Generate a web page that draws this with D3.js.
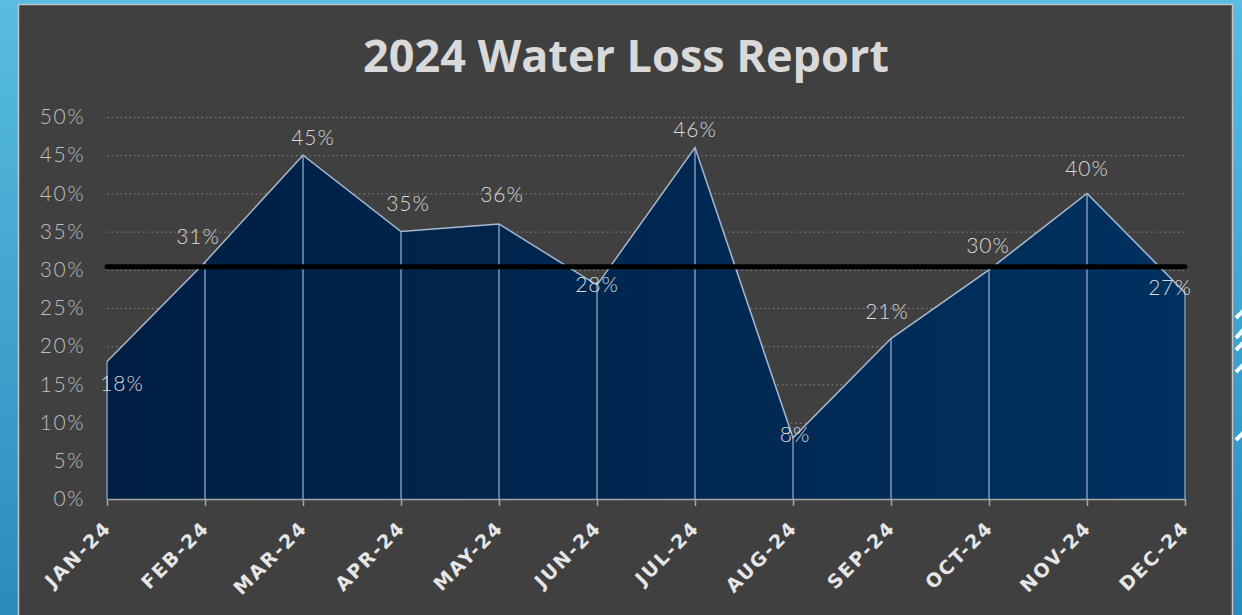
<html>
<head>
  <script src="https://d3js.org/d3.v7.min.js"></script>
  <style>
    body { margin: 0; overflow: hidden; }
    .grid line { stroke: #8a8a8a; stroke-dasharray: 1.5 3; }
    .grid .domain { stroke: none; }
  </style>
</head>
<body>
  <svg id="chart" width="1242" height="615"></svg>
  <script>
    // data
    const months = ["JAN-24", "FEB-24", "MAR-24", "APR-24", "MAY-24", "JUN-24",
                    "JUL-24", "AUG-24", "SEP-24", "OCT-24", "NOV-24", "DEC-24"];
    const lossPct = [18, 31, 45, 35, 36, 28, 46, 8, 21, 30, 40, 27];
    const averagePct = 30.4;
    const yTicks = [0, 5, 10, 15, 20, 25, 30, 35, 40, 45, 50];
    const titleText = "2024 Water Loss Report";

    // label nudges (style only), [dx, dy] from the point
    const labelNudge = [[15, 22], [-7, -26], [10, -18], [7, -28], [3, -29], [0, 0],
                        [0, -18], [2, -3], [-4, -27], [-1, -24], [0, -25], [-15, -5]];

    const svg = d3.select("#chart");
    const defs = svg.append("defs");

    const bg = defs.append("linearGradient").attr("id", "bg")
      .attr("x1", 0).attr("y1", 0).attr("x2", 0).attr("y2", 1);
    bg.append("stop").attr("offset", "0%").attr("stop-color", "#58bde0");
    bg.append("stop").attr("offset", "100%").attr("stop-color", "#2a8cbd");

    const fillGrad = defs.append("linearGradient").attr("id", "areaFill")
      .attr("x1", 0).attr("y1", 0).attr("x2", 1).attr("y2", 0);
    fillGrad.append("stop").attr("offset", "0%").attr("stop-color", "#001e43");
    fillGrad.append("stop").attr("offset", "100%").attr("stop-color", "#00315f");

    svg.append("rect").attr("width", 1242).attr("height", 615).attr("fill", "url(#bg)");

    // theme stripes at the right edge
    const stripes = svg.append("g").attr("stroke", "#ffffff").attr("stroke-width", 4);
    [[1236, 318, 1250, 304], [1236, 338, 1250, 322], [1236, 350, 1250, 336],
     [1236, 372, 1250, 358], [1236, 440, 1250, 426]].forEach(s => {
      stripes.append("line").attr("x1", s[0]).attr("y1", s[1]).attr("x2", s[2]).attr("y2", s[3]);
    });

    svg.append("rect")
      .attr("x", 18.5).attr("y", 4.5).attr("width", 1214).attr("height", 640)
      .attr("fill", "#404040").attr("stroke", "#c4c4c4").attr("stroke-width", 1.5);

    svg.append("text")
      .attr("x", 626).attr("y", 72)
      .attr("text-anchor", "middle")
      .attr("fill", "#d9d9d9")
      .style("font-family", "'Open Sans', sans-serif")
      .style("font-weight", 700)
      .style("font-size", "45px")
      .text(titleText);

    const x = d3.scalePoint().domain(months).range([107, 1185]);
    const y = d3.scaleLinear().domain([0, 50]).range([499, 117]);

    // gridlines
    svg.append("g").attr("class", "grid")
      .attr("transform", "translate(107,0)")
      .call(d3.axisLeft(y).tickValues(yTicks.slice(1)).tickSize(-1078).tickFormat(""));

    const pts = months.map((m, i) => ({ m, v: lossPct[i] }));

    svg.append("path").datum(pts)
      .attr("fill", "url(#areaFill)")
      .attr("d", d3.area().x(d => x(d.m)).y0(y(0)).y1(d => y(d.v)));

    // drop lines
    svg.append("g").selectAll("line").data(pts).join("line")
      .attr("x1", d => x(d.m)).attr("x2", d => x(d.m))
      .attr("y1", d => y(d.v)).attr("y2", y(0))
      .attr("stroke", "#8197b6").attr("stroke-width", 1.5);

    svg.append("path").datum(pts)
      .attr("fill", "none").attr("stroke", "#a9b9cf").attr("stroke-width", 1.5)
      .attr("d", d3.line().x(d => x(d.m)).y(d => y(d.v)));

    // y axis labels
    const yAxis = svg.append("g")
      .attr("transform", "translate(88,0)")
      .call(d3.axisLeft(y).tickValues(yTicks).tickSize(0).tickFormat(d => d + "%"));
    yAxis.select(".domain").remove();
    yAxis.selectAll("text")
      .attr("fill", "#bfbfbf")
      .style("font-family", "Lato, sans-serif")
      .style("font-weight", 300)
      .style("font-size", "21px")
      .style("letter-spacing", "1.5px");

    // x axis
    const xAxis = svg.append("g")
      .attr("transform", "translate(0,499)")
      .call(d3.axisBottom(x).tickSize(7).tickSizeOuter(0));
    xAxis.select(".domain").attr("stroke", "#a6a6a6").attr("stroke-width", 1.5);
    xAxis.selectAll(".tick line").attr("stroke", "#a6a6a6").attr("stroke-width", 1.5);
    xAxis.selectAll("text")
      .attr("fill", "#e6e6e6")
      .attr("text-anchor", "end")
      .attr("transform", "translate(5,30) rotate(-45)")
      .attr("y", 0).attr("dy", 0).attr("x", 0)
      .style("font-family", "'DejaVu Sans', sans-serif")
      .style("font-weight", 700)
      .style("font-size", "19px")
      .style("letter-spacing", "2px");

    // average line
    svg.append("line")
      .attr("x1", x(months[0])).attr("x2", x(months[months.length - 1]))
      .attr("y1", y(averagePct)).attr("y2", y(averagePct))
      .attr("stroke", "#000").attr("stroke-width", 5).attr("stroke-linecap", "round");

    // data labels
    svg.append("g").selectAll("text").data(pts).join("text")
      .attr("x", (d, i) => x(d.m) + labelNudge[i][0])
      .attr("y", (d, i) => y(d.v) + labelNudge[i][1])
      .attr("dy", "0.35em")
      .attr("text-anchor", "middle")
      .attr("fill", "#d9d9d9")
      .style("font-family", "Lato, sans-serif")
      .style("font-weight", 300)
      .style("font-size", "21px")
      .style("letter-spacing", "1px")
      .text(d => d.v + "%");
  </script>
</body>
</html>
